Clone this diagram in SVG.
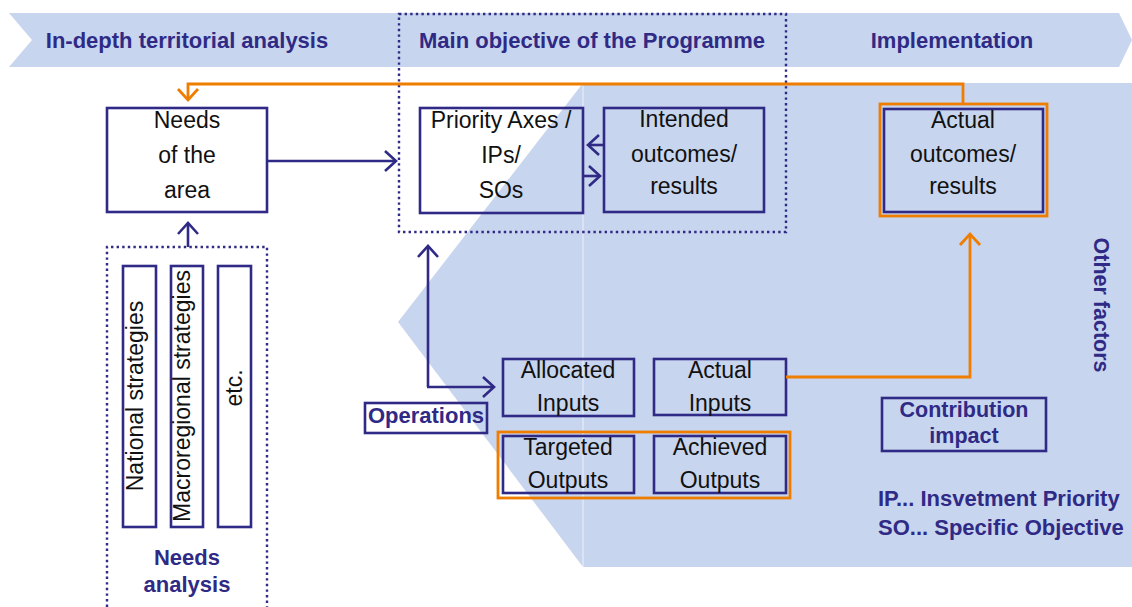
<svg xmlns="http://www.w3.org/2000/svg" width="1132" height="607" viewBox="0 0 1132 607">
  <style>
    .box { fill: none; stroke: #2f2a85; stroke-width: 2.6; }
    .obox { fill: none; stroke: #ef7d00; stroke-width: 2.8; }
    .dot { fill: none; stroke: #2f2a85; stroke-width: 2.4; stroke-dasharray: 2.4 3.2; }
    .txt { font-family: "Liberation Sans", Arial, sans-serif; font-size: 23px; fill: #111; text-anchor: middle; }
    .lbl { font-family: "Liberation Sans", Arial, sans-serif; font-size: 22px; font-weight: bold; fill: #2f2a85; }
    .mid { text-anchor: middle; }
    .blue { fill: none; stroke: #2f2a85; stroke-width: 2.6; }
    .orange { fill: none; stroke: #ef7d00; stroke-width: 2.8; }
  </style>
  <defs>
    <marker id="arrBlue" markerUnits="userSpaceOnUse" markerWidth="30" markerHeight="30" viewBox="-15 -15 30 30" refX="0" refY="0" orient="auto">
      <path d="M-11,-10 L0,0 L-11,10" fill="none" stroke="#2f2a85" stroke-width="2.6"/>
    </marker>
    <marker id="arrOrange" markerUnits="userSpaceOnUse" markerWidth="30" markerHeight="30" viewBox="-15 -15 30 30" refX="0" refY="0" orient="auto">
      <path d="M-11,-10 L0,0 L-11,10" fill="none" stroke="#ef7d00" stroke-width="2.8"/>
    </marker>
  </defs>

  <rect width="1132" height="607" fill="#ffffff"/>

  <!-- phase banner -->
  <g id="banner">
    <polygon points="9,13 1119,13 1132,40 1119,67 9,67 32,40" fill="#c8d5ee"/>
    <text class="lbl mid" x="187" y="48">In-depth territorial analysis</text>
    <text class="lbl mid" x="592" y="48">Main objective of the Programme</text>
    <text class="lbl mid" x="952" y="48">Implementation</text>
  </g>

  <!-- implementation field -->
  <g id="implementation-field">
    <polygon points="583,83 1132,83 1132,567 583,567 398,322" fill="#c8d5ee"/>
    <line x1="583" y1="83" x2="583" y2="567" stroke="#ffffff" stroke-width="1" opacity="0.7"/>
  </g>

  <!-- main objective frame -->
  <g id="main-objective">
    <rect class="dot" x="399" y="14" width="387" height="218"/>
  </g>

  <!-- needs analysis frame -->
  <g id="needs-analysis">
    <path class="dot" d="M107,607 V247 H267 V607"/>
    <text class="lbl mid" x="187" y="565">Needs</text>
    <text class="lbl mid" x="187" y="592">analysis</text>
  </g>

  <g id="national-strategies">
    <rect class="box" x="123" y="266" width="33" height="261"/>
    <text class="txt" transform="translate(143,396) rotate(-90)">National strategies</text>
  </g>
  <g id="macroregional-strategies">
    <rect class="box" x="171" y="266" width="32" height="261"/>
    <text class="txt" transform="translate(190,396) rotate(-90)">Macroregional strategies</text>
  </g>
  <g id="etc">
    <rect class="box" x="218" y="266" width="33" height="261"/>
    <text class="txt" transform="translate(242,388) rotate(-90)">etc.</text>
  </g>

  <g id="needs-of-area">
    <rect class="box" x="107" y="108" width="160" height="104"/>
    <text class="txt" x="187" y="128">Needs</text>
    <text class="txt" x="187" y="163">of the</text>
    <text class="txt" x="187" y="198">area</text>
  </g>

  <g id="priority-axes">
    <rect class="box" x="420" y="108" width="163" height="105"/>
    <text class="txt" x="501" y="128">Priority Axes /</text>
    <text class="txt" x="501" y="163">IPs/</text>
    <text class="txt" x="501" y="198">SOs</text>
  </g>

  <g id="intended-outcomes">
    <rect class="box" x="604" y="108" width="160" height="104"/>
    <text class="txt" x="684" y="127">Intended</text>
    <text class="txt" x="684" y="162">outcomes/</text>
    <text class="txt" x="684" y="194">results</text>
  </g>

  <g id="actual-outcomes">
    <rect class="obox" x="880" y="104" width="167" height="112"/>
    <rect class="box" x="884" y="109" width="159" height="103"/>
    <text class="txt" x="963" y="128">Actual</text>
    <text class="txt" x="963" y="162">outcomes/</text>
    <text class="txt" x="963" y="194">results</text>
  </g>

  <g id="operations">
    <rect class="box" x="365" y="403" width="122" height="30"/>
    <text class="lbl mid" x="426" y="423">Operations</text>
  </g>

  <g id="allocated-inputs">
    <rect class="box" x="503" y="359" width="131" height="57"/>
    <text class="txt" x="568" y="378">Allocated</text>
    <text class="txt" x="568" y="411">Inputs</text>
  </g>

  <g id="actual-inputs">
    <rect class="box" x="654" y="359" width="132" height="56"/>
    <text class="txt" x="720" y="378">Actual</text>
    <text class="txt" x="720" y="411">Inputs</text>
  </g>

  <g id="outputs">
    <rect class="obox" x="498" y="432" width="292" height="66"/>
  </g>
  <g id="targeted-outputs">
    <rect class="box" x="503" y="436" width="131" height="57"/>
    <text class="txt" x="568" y="455">Targeted</text>
    <text class="txt" x="568" y="488">Outputs</text>
  </g>
  <g id="achieved-outputs">
    <rect class="box" x="654" y="436" width="132" height="57"/>
    <text class="txt" x="720" y="455">Achieved</text>
    <text class="txt" x="720" y="488">Outputs</text>
  </g>

  <g id="contribution-impact">
    <rect class="box" x="882" y="398" width="164" height="53"/>
    <text class="lbl mid" x="964" y="417" style="font-size:21.5px">Contribution</text>
    <text class="lbl mid" x="964" y="443" style="font-size:21.5px">impact</text>
  </g>

  <g id="other-factors">
    <text class="lbl mid" transform="translate(1094,305) rotate(90)" style="font-size:21.5px">Other factors</text>
  </g>

  <g id="legend">
    <text class="lbl" x="878" y="506">IP... Insvetment Priority</text>
    <text class="lbl" x="878" y="535">SO... Specific Objective</text>
  </g>

  <!-- connectors -->
  <g id="connectors">
    <path class="blue" d="M267,161 H396" marker-end="url(#arrBlue)"/>
    <path class="blue" d="M604,145 H588" marker-end="url(#arrBlue)"/>
    <path class="blue" d="M583,176 H600" marker-end="url(#arrBlue)"/>
    <path class="blue" d="M188,247 V223" marker-end="url(#arrBlue)"/>
    <path class="blue" d="M428,387 V246" marker-end="url(#arrBlue)"/>
    <path class="blue" d="M427,387 H494" marker-end="url(#arrBlue)"/>
    <path class="orange" d="M963,104 V84 H188 V100" marker-end="url(#arrOrange)"/>
    <path class="orange" d="M786,377 H970 V234" marker-end="url(#arrOrange)"/>
  </g>
</svg>
